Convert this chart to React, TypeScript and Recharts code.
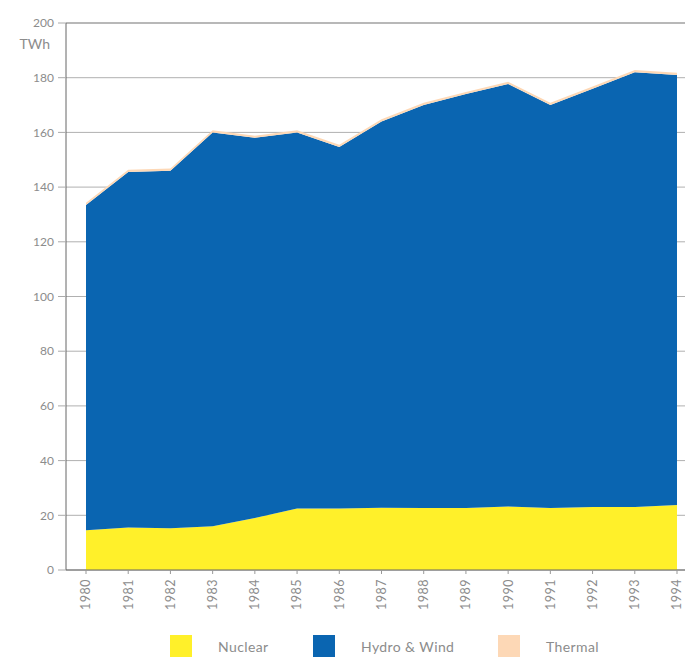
import { AreaChart, Area, XAxis, YAxis, CartesianGrid, Legend, ReferenceLine } from "recharts";

const years = ["1980", "1981", "1982", "1983", "1984", "1985", "1986", "1987", "1988", "1989", "1990", "1991", "1992", "1993", "1994"];
const nuclear = [14.5, 15.5, 15.3, 16, 19, 22.5, 22.5, 22.8, 22.7, 22.7, 23.2, 22.7, 23, 23, 23.8];
const hydroWind = [119, 130, 130.7, 144, 139, 137.5, 132.2, 141.2, 147.3, 151.3, 154.5, 147.3, 153, 159, 157.2];
const thermal = [0.8, 0.8, 0.8, 0.8, 0.8, 0.8, 0.8, 0.8, 0.8, 0.8, 0.8, 0.8, 0.8, 0.8, 0.8];
const yTicks = [0, 20, 40, 60, 80, 100, 120, 140, 160, 180, 200];

const series = [
  { key: "nuclear", name: "Nuclear", color: "#FFF02A" },
  { key: "hydro", name: "Hydro & Wind", color: "#0A65B1" },
  { key: "thermal", name: "Thermal", color: "#FDD8B6" },
];

const data = years.map((year, i) => ({
  year,
  nuclear: nuclear[i],
  hydro: hydroWind[i],
  thermal: thermal[i],
}));

const FONT = "Lato, 'Open Sans', sans-serif";
const TEXT = "#8c8c8c";

function YearTick(props: any) {
  const { x, y, payload } = props;
  return (
    <g transform={`translate(${x},${y})`}>
      <text
        x={0}
        y={0}
        dy="0.35em"
        textAnchor="end"
        transform="rotate(-90)"
        fill={TEXT}
        fontSize={12.5}
        fontFamily={FONT}
        letterSpacing={0.5}
      >
        {payload.value}
      </text>
    </g>
  );
}

// legend items placed to match the original spacing
const legendLeft = [170, 313, 498];

function LegendContent() {
  return (
    <div style={{ position: "relative", width: 693, height: 30 }}>
      {series.map((s, i) => (
        <div key={s.key} style={{ position: "absolute", left: legendLeft[i], top: 6, display: "flex", alignItems: "center" }}>
          <div style={{ width: 22, height: 22, background: s.color }} />
          <span style={{ marginLeft: 26, fontFamily: FONT, fontSize: 14, color: TEXT, letterSpacing: 0.4 }}>{s.name}</span>
        </div>
      ))}
    </div>
  );
}

export default function App() {
  return (
    <div style={{ position: "relative", left: -8, top: -8, width: 693, height: 659, background: "#fff" }}>
      <AreaChart width={693} height={659} data={data} margin={{ top: 23, right: 0, left: 0, bottom: 0 }}>
        <CartesianGrid vertical={false} stroke="#b0b0b0" strokeWidth={1} />
        <XAxis
          dataKey="year"
          height={59}
          padding={{ left: 20, right: 16 }}
          interval={0}
          tick={<YearTick />}
          tickSize={4}
          tickMargin={5}
          stroke="#666"
          tickLine={{ stroke: "#999" }}
        />
        <YAxis
          width={66}
          domain={[0, 200]}
          ticks={yTicks}
          interval={0}
          tickSize={8}
          tickMargin={4}
          stroke="#666"
          tickLine={{ stroke: "#aaa" }}
          tick={{ fill: TEXT, fontSize: 12, fontFamily: FONT }}
          label={{ value: "TWh", position: "insideTopRight", offset: 16, fill: TEXT, fontSize: 14, fontFamily: FONT }}
        />
        <ReferenceLine y={200} stroke="#999" />
        <Legend verticalAlign="bottom" content={<LegendContent />} wrapperStyle={{ height: 30 }} />
        {series.map((s) => (
          <Area
            key={s.key}
            type="linear"
            dataKey={s.key}
            name={s.name}
            stackId="1"
            stroke="none"
            fill={s.color}
            fillOpacity={1}
            isAnimationActive={false}
          />
        ))}
      </AreaChart>
    </div>
  );
}
